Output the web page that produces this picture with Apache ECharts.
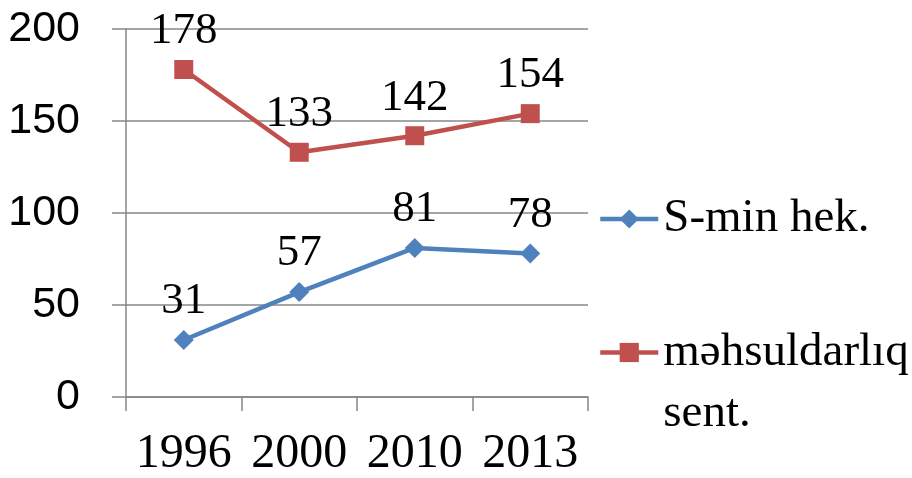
<!DOCTYPE html>
<html><head><meta charset="utf-8">
<script src="https://cdn.jsdelivr.net/npm/echarts@6/dist/echarts.min.js"></script>
<style>html,body{margin:0;padding:0;background:#fff}#c{width:912px;height:478px}</style>
</head><body><div id="c"></div>
<script>
var categories = ['1996', '2000', '2010', '2013'];
var seriesNames = ['S-min hek.', 'məhsuldarlıq sent.'];
var areaValues = [31, 57, 81, 78];
var yieldValues = [178, 133, 142, 154];
var yTicks = [0, 50, 100, 150, 200];

var chart = echarts.init(document.getElementById('c'), null, {renderer: 'canvas'});
var serif = '"Liberation Serif", "Times New Roman", serif';
var sans = '"Liberation Sans", Arial, sans-serif';
var gridColor = '#878787';
var labelStyle = {show: true, position: 'top', distance: 6, fontFamily: serif, fontSize: 45, color: '#000'};
chart.setOption({
  animation: false,
  grid: {left: 126, right: 324, top: 29, bottom: 78, containLabel: false},
  xAxis: {
    type: 'category', data: categories, boundaryGap: true,
    axisLine: {lineStyle: {color: gridColor, width: 1.5}},
    axisTick: {show: true, interval: 0, length: 14, lineStyle: {color: gridColor, width: 1.5}},
    axisLabel: {interval: 0, fontFamily: serif, fontSize: 48, color: '#000', margin: 33, hideOverlap: false}
  },
  yAxis: {
    type: 'value', min: yTicks[0], max: yTicks[yTicks.length - 1], interval: 50,
    axisLine: {show: true, lineStyle: {color: gridColor, width: 1.5}},
    axisTick: {show: true, length: 14, lineStyle: {color: gridColor, width: 1.5}},
    splitLine: {lineStyle: {color: gridColor, width: 1.5}},
    axisLabel: {fontFamily: sans, fontSize: 43, color: '#000', margin: 46}
  },
  legend: [
    {data: [seriesNames[0]], orient: 'vertical', left: 598, top: 193, padding: 0, itemWidth: 58, itemHeight: 24, itemGap: 3,
     lineStyle: {width: 4.5},
     textStyle: {fontFamily: serif, fontSize: 47, color: '#000', lineHeight: 52}},
    {data: [seriesNames[1]], orient: 'vertical', left: 598, top: 261, padding: 0, itemWidth: 58, itemHeight: 24, itemGap: 3,
     lineStyle: {width: 4.5},
     formatter: function () { return ' \nməhsuldarlıq\nsent.'; },
     textStyle: {fontFamily: serif, fontSize: 47, color: '#000', lineHeight: 61}}
  ],
  series: [
    {name: seriesNames[0], type: 'line', data: areaValues, symbol: 'diamond', symbolSize: 20,
     itemStyle: {color: '#4F81BD'}, lineStyle: {color: '#4F81BD', width: 4.5}, label: labelStyle},
    {name: seriesNames[1], type: 'line', data: yieldValues, symbol: 'rect', symbolSize: 19,
     itemStyle: {color: '#C0504D'}, lineStyle: {color: '#C0504D', width: 4.5}, label: labelStyle}
  ]
});
</script></body></html>
